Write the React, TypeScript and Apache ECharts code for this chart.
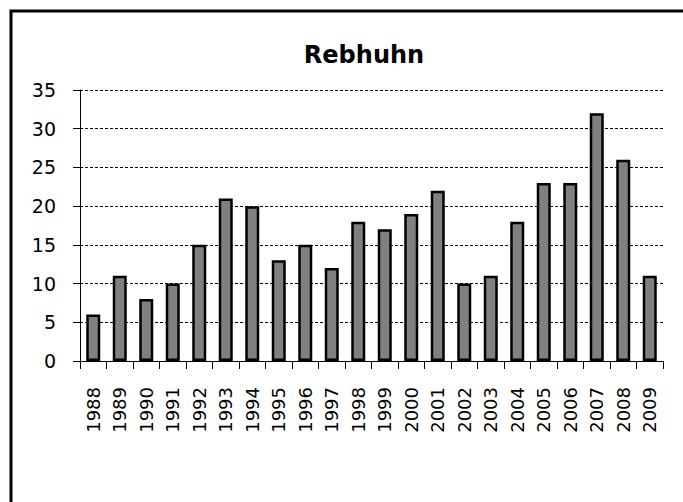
import React, { useEffect, useRef } from "react";
import * as echarts from "echarts";

const years = ["1988","1989","1990","1991","1992","1993","1994","1995","1996","1997","1998","1999","2000","2001","2002","2003","2004","2005","2006","2007","2008","2009"];
const counts = [6, 11, 8, 10, 15, 21, 20, 13, 15, 12, 18, 17, 19, 22, 10, 11, 18, 23, 23, 32, 26, 11];
const titleText = "Rebhuhn";

export default function App() {
  const ref = useRef<HTMLDivElement>(null);
  useEffect(() => {
    if (!ref.current) return;
    const chart = echarts.init(ref.current, null, { renderer: "svg" });
    const font = "'DejaVu Sans', Verdana, sans-serif";
    chart.setOption({
      animation: false,
      backgroundColor: "#ffffff",
      textStyle: { fontFamily: font, color: "#000" },
      title: {
        text: titleText,
        left: 359,
        top: 38,
        textAlign: "center",
        textStyle: { fontFamily: font, fontSize: 24, fontWeight: "bold", color: "#000" },
      },
      graphic: [
        {
          type: "rect",
          shape: { x: 11, y: 11, width: 800, height: 700 },
          style: { fill: "none", stroke: "#000", lineWidth: 3 },
          silent: true,
        },
      ],
      grid: { left: 80, right: 20, top: 90, bottom: 141 },
      xAxis: {
        type: "category",
        data: years,
        boundaryGap: true,
        axisLine: { lineStyle: { color: "#000", width: 1 } },
        axisTick: { show: true, length: 8, lineStyle: { color: "#000" } },
        axisLabel: { rotate: 90, fontSize: 18, color: "#000", margin: 26, fontFamily: font },
        splitLine: { show: false },
      },
      yAxis: {
        type: "value",
        min: 0,
        max: 35,
        interval: 5,
        axisLine: { show: true, lineStyle: { color: "#000", width: 1 } },
        axisTick: { show: true, length: 7, lineStyle: { color: "#000" } },
        axisLabel: { fontSize: 19, color: "#000", margin: 24, fontFamily: font },
        splitLine: { show: true, lineStyle: { color: "#000", type: [3, 2], width: 1 } },
      },
      series: [
        {
          type: "bar",
          data: counts,
          barWidth: 14,
          itemStyle: { color: "#808080", borderColor: "#000", borderWidth: 2.5 },
        },
      ],
    });
    return () => chart.dispose();
  }, []);
  return (
    <div
      ref={ref}
      style={{ position: "absolute", left: 0, top: 0, width: 683, height: 502 }}
    />
  );
}
